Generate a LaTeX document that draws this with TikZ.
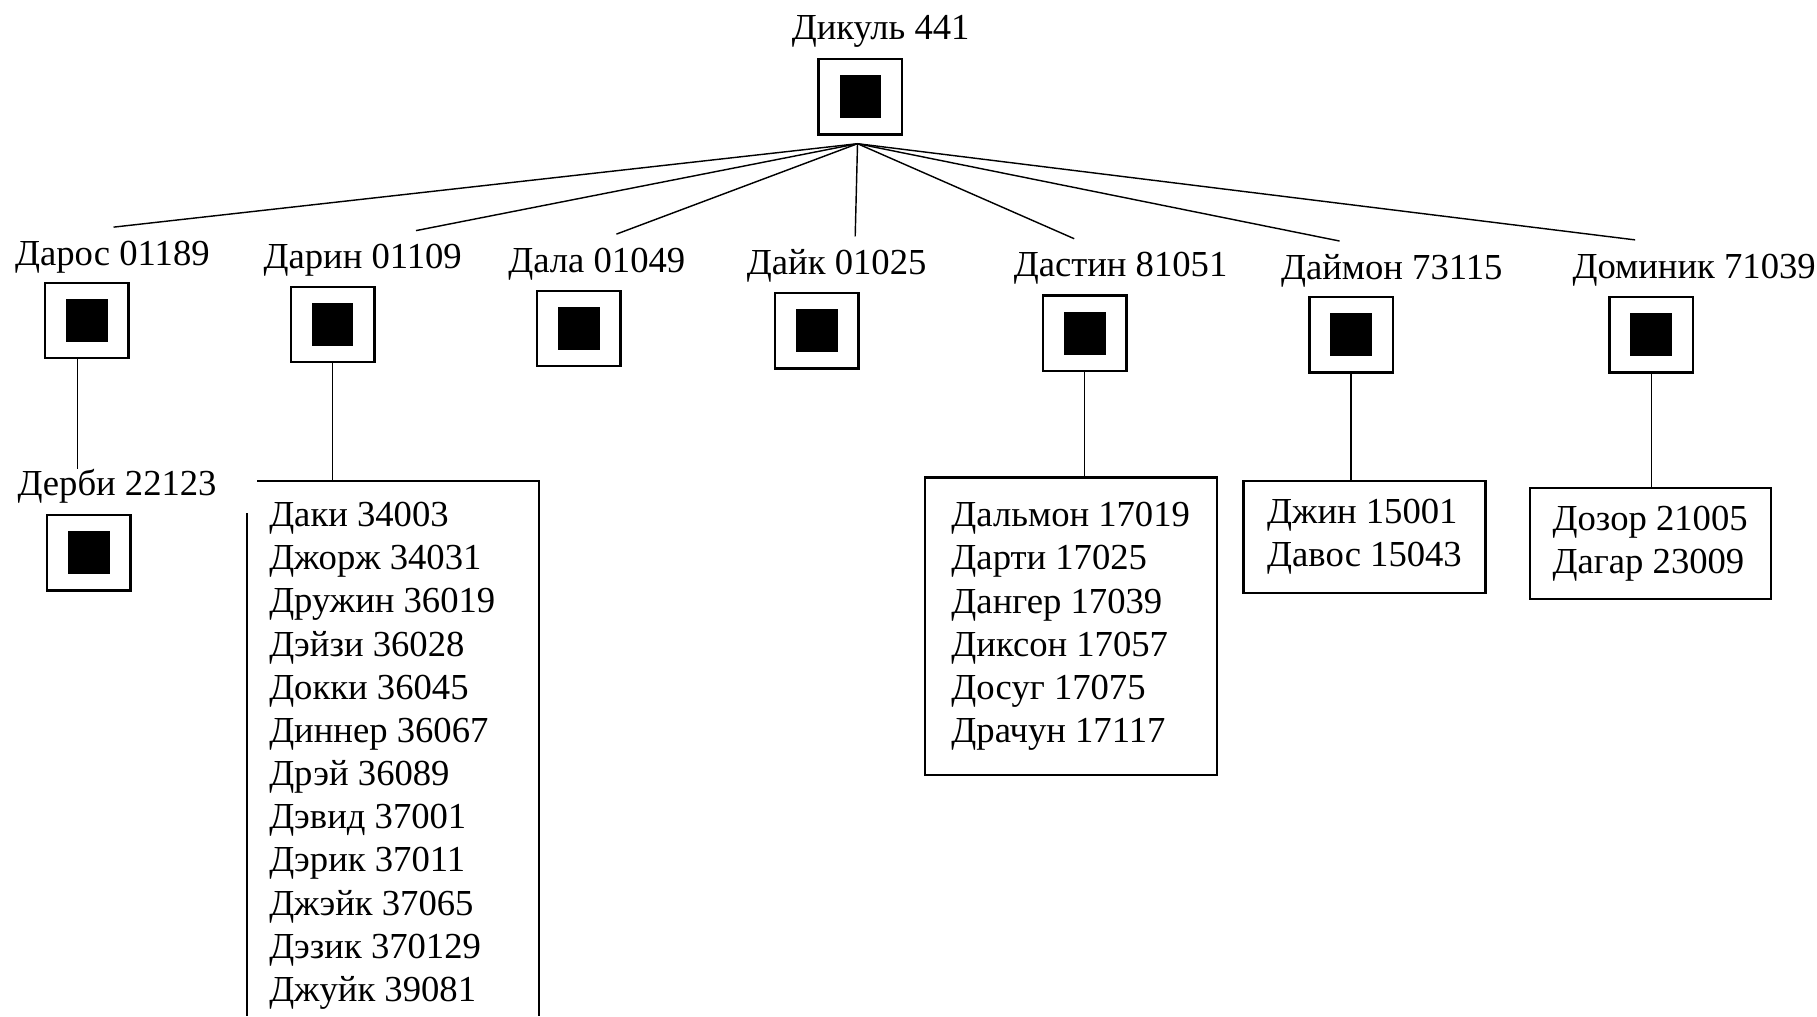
\documentclass[tikz,border=0pt]{standalone}
\usepackage{fontspec}
\setmainfont{Liberation Serif}
\usetikzlibrary{calc}
\newcommand{\blk}{\rule{0.72cm}{0.74cm}}

\begin{document}
\begin{tikzpicture}[
  x=0.02cm, y=-0.02cm,
  font=\fontsize{18}{21.2}\selectfont,
  sq/.style={draw,line width=1.2pt,inner sep=0pt,minimum width=1.44cm,minimum height=1.3cm},
  lbl/.style={anchor=base,inner sep=0pt},
  listbox/.style={draw,line width=1.1pt,align=left,inner sep=0pt},
  frame/.style={line width=1pt},
  link/.style={line width=0.7pt}
]
\useasboundingbox (0,0) rectangle (1568,877);

% root
\node[lbl] (dikullbl) at (760,34) {Дикуль 441};
\node[sq] (dikul) at (742.5,83.5) {\blk};
\coordinate (hub) at (740,124);

% first row
\node[lbl] (daroslbl) at (97,229) {Дарос 01189};
\node[sq] (daros) at (75,276.5) {\blk};
\node[lbl] (darinlbl) at (313,232) {Дарин 01109};
\node[sq] (darin) at (287,280) {\blk};
\node[lbl] (dalalbl) at (515,235) {Дала 01049};
\node[sq] (dala) at (499.5,283.5) {\blk};
\node[lbl] (dayklbl) at (722,237) {Дайк 01025};
\node[sq] (dayk) at (705,285.5) {\blk};
\node[lbl] (dastinlbl) at (967,239) {Дастин 81051};
\node[sq] (dastin) at (936,287.5) {\blk};
\node[lbl] (daymonlbl) at (1201,241) {Даймон 73115};
\node[sq] (daymon) at (1166,289) {\blk};
\node[lbl] (dominiklbl) at (1462,240) {Доминик 71039};
\node[sq] (dominik) at (1425,289) {\blk};

% second row
\node[lbl] (derbylbl) at (101,428) {Дерби 22123};
\node[sq] (derby) at (76.5,477) {\blk};

\node[anchor=north west,align=left,inner sep=0pt] (darinlist) at (232,433)
  {Даки 34003\\Джорж 34031\\Дружин 36019\\Дэйзи 36028\\Докки 36045\\Диннер 36067\\
   Дрэй 36089\\Дэвид 37001\\Дэрик 37011\\Джэйк 37065\\Дэзик 370129\\Джуйк 39081};
\draw[frame] (222,415) coordinate (darintop) -- (465,415) -- (465,877);
\draw[frame] (213,443) -- (213,877);

\node[listbox,minimum width=5.04cm,minimum height=5.14cm] (dastinlist) at (924,540.5)
  {Дальмон 17019\\Дарти 17025\\Дангер 17039\\Диксон 17057\\Досуг 17075\\Драчун 17117};
\node[listbox,minimum width=4.18cm,minimum height=1.94cm] (daymonlist) at (1177.5,463.5)
  {Джин 15001\\Давос 15043};
\node[listbox,minimum width=4.16cm,minimum height=1.92cm] (dominiklist) at (1424,469)
  {Дозор 21005\\Дагар 23009};

% links
\draw[link] (hub) -- ($(daroslbl.base)+(1,-33)$);
\draw[link] (hub) -- ($(darinlbl.base)+(46,-33)$);
\draw[link] (hub) -- ($(dalalbl.base)+(17,-33)$);
\draw[link] (hub) -- ($(dayklbl.base)+(16,-33)$);
\draw[link] (hub) -- ($(dastinlbl.base)+(-40,-33)$);
\draw[link] (hub) -- ($(daymonlbl.base)+(-45,-33)$);
\draw[link] (hub) -- ($(dominiklbl.base)+(-51,-33)$);

\draw[link] ($(daros.south)+(-8,0)$) -- ($(derbylbl.base)+(-34,-23)$);
\draw[link] (darin.south) -- (darin.south |- darintop);
\draw[link] (dastin.south) -- (dastin.south |- dastinlist.north);
\draw[link] (daymon.south) -- (daymon.south |- daymonlist.north);
\draw[link] (dominik.south) -- (dominik.south |- dominiklist.north);
\end{tikzpicture}
\end{document}
